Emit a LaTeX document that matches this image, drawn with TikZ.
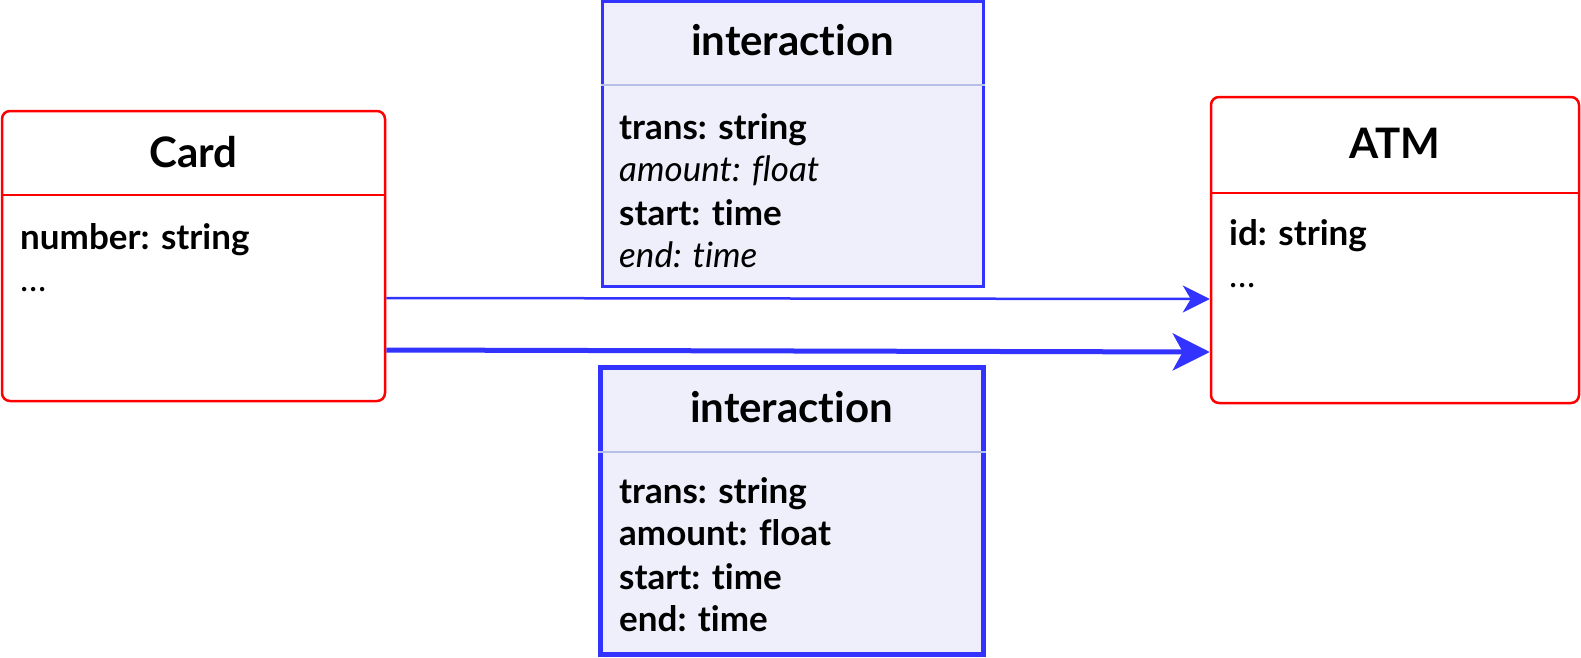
\documentclass[tikz,border=0pt]{standalone}
\usepackage{fontspec}
\setmainfont{Lato}[Ligatures={NoCommon}]
\usetikzlibrary{arrows.meta}
\definecolor{cred}{HTML}{FF0000}
\definecolor{cblue}{HTML}{3333FF}
\definecolor{cfill}{HTML}{EFEFFB}
\definecolor{csep}{HTML}{B4C0E8}
\tikzset{
  classbox/.style={draw=cred, line width=2.5pt, rounded corners=8pt, fill=white, minimum width=#1},
  intbox/.style={draw=cblue, fill=cfill, inner sep=0pt},
  title/.style={anchor=base, inner sep=0pt, font=\fontsize{42}{50}\selectfont\bfseries},
  attr/.style={anchor=base west, inner sep=0pt, font=\fontsize{35}{42}\selectfont\bfseries},
  attri/.style={anchor=base west, inner sep=0pt, font=\fontsize{35}{42}\selectfont\itshape},
  attrr/.style={anchor=base west, inner sep=0pt, font=\fontsize{35}{42}\selectfont},
  conn/.style={draw=cblue},
}
\begin{document}
\begin{tikzpicture}[x=1pt,y=-1pt]
\useasboundingbox (0,0) rectangle (1581,657);
% Card
\node[classbox=383pt, minimum height=290pt, inner sep=0pt] (card) at (193.5,256) {};
\draw[cred, line width=2pt] (card.west |- 0,195) -- (card.east |- 0,195);
\node[title] (cardt) at (193.5,167) {Card};
\node[attr] (carda1) at (20,249) {number: string};
\node[attrr] (carda2) at (20,291) {\dots};
% ATM
\node[classbox=368pt, minimum height=306pt, inner sep=0pt] (atm) at (1395,250) {};
\draw[cred, line width=2pt] (atm.west |- 0,193) -- (atm.east |- 0,193);
\node[title] (atmt) at (1395,158) {ATM};
\node[attr] (atma1) at (1229,245) {id: string};
\node[attrr] (atma2) at (1229,287) {\dots};
% interaction top
\node[intbox, line width=3pt, minimum width=381pt, minimum height=285pt] (int1) at (792.5,144) {};
\draw[csep, line width=1.2pt] (int1.west |- 0,85) -- (int1.east |- 0,85);
\node[title] (int1t) at (792.5,55) {interaction};
\node[attr] (int1a) at (619,139) {trans: string};
\node[attri] (int1b) at (619,181) {amount: float};
\node[attr] (int1c) at (619,225) {start: time};
\node[attri] (int1d) at (619,267) {end: time};
% interaction bottom
\node[intbox, line width=5pt, minimum width=383pt, minimum height=287pt] (int2) at (791.5,510.5) {};
\draw[csep, line width=1.2pt] (int2.west |- 0,452) -- (int2.east |- 0,452);
\node[title] (int2t) at (791.5,422) {interaction};
\node[attr] (int2a) at (619,503) {trans: string};
\node[attr] (int2b) at (619,545) {amount: float};
\node[attr] (int2c) at (619,589) {start: time};
\node[attr] (int2d) at (619,631) {end: time};
% connectors
\coordinate (s1) at (card.east |- 0,298);
\coordinate (e1) at (atm.west |- 0,299);
\coordinate (s2) at (card.east |- 0,350);
\coordinate (e2) at (atm.west |- 0,352);
\draw[conn, line width=2.5pt, -{Stealth[length=27pt, width=27pt, inset=8pt]}] (s1) -- (e1);
\draw[conn, line width=5pt, -{Stealth[length=37pt, width=37pt, inset=10pt]}] (s2) -- (e2);
\end{tikzpicture}
\end{document}
